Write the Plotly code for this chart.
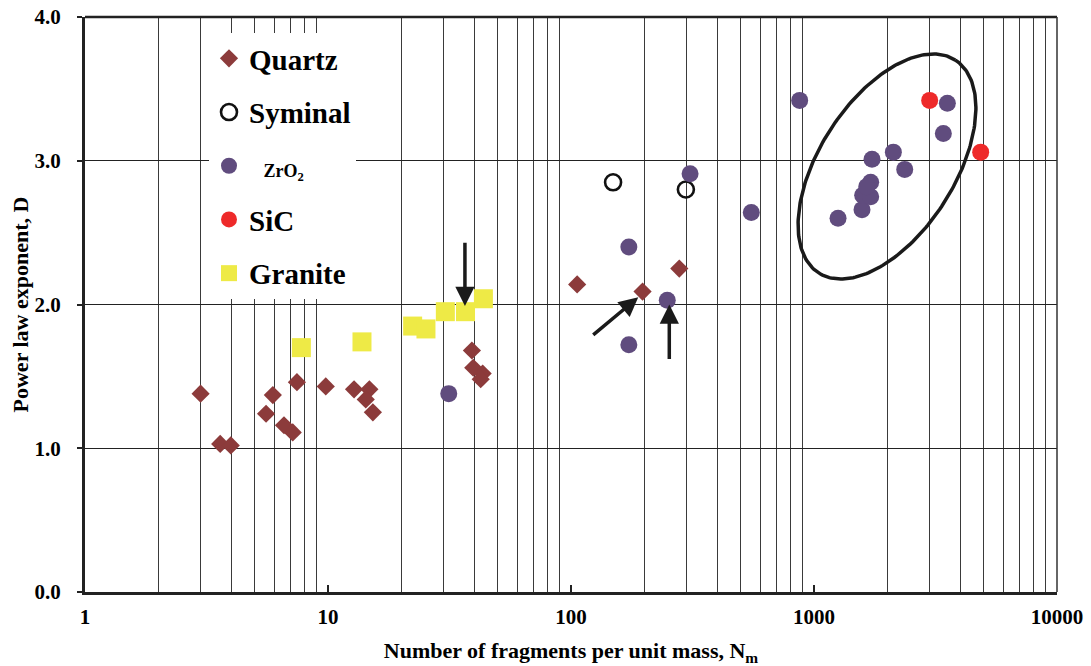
import numpy as np
import plotly.graph_objects as go

# ---- data: number of fragments per unit mass (N_m) vs power-law exponent D ----
quartz_x = [2.99, 3.60, 3.98, 5.56, 5.93, 6.59, 7.16, 7.45, 9.79, 12.8, 14.8, 14.3, 15.3,
            39.1, 39.6, 43.3, 42.5, 106, 197, 279]
quartz_y = [1.38, 1.03, 1.02, 1.24, 1.37, 1.16, 1.11, 1.46, 1.43, 1.41, 1.41, 1.34, 1.25,
            1.68, 1.56, 1.52, 1.48, 2.14, 2.09, 2.25]

syminal_x = [149, 297]
syminal_y = [2.85, 2.80]

zro2_x = [31.4, 173, 173, 249, 309, 552, 873, 1256, 1576, 1586, 1711, 1711, 1648, 1733,
          2121, 2362, 3406, 3538]
zro2_y = [1.38, 2.40, 1.72, 2.03, 2.91, 2.64, 3.42, 2.60, 2.66, 2.76, 2.75, 2.85, 2.82, 3.01,
          3.06, 2.94, 3.19, 3.40]

sic_x = [2992, 4852]
sic_y = [3.42, 3.06]

granite_x = [7.77, 13.8, 22.3, 25.3, 30.4, 36.8, 43.6]
granite_y = [1.70, 1.74, 1.85, 1.83, 1.95, 1.95, 2.04]

x_tick_vals = [1, 10, 100, 1000, 10000]
x_tick_text = ["1", "10", "100", "1000", "10000"]
y_tick_vals = [0, 1, 2, 3, 4]
y_tick_text = ["0.0", "1.0", "2.0", "3.0", "4.0"]

# arrows: (N_m, D) of tail and head
arrows = [
    ((36.6, 2.44), (36.6, 1.99)),
    ((121.7, 1.78), (189.2, 2.05)),
    ((253.8, 1.61), (253.8, 2.00)),
]

# ---- layout geometry ----
W, H = 1091, 666
MARGIN = dict(l=85, r=34, t=17, b=74)
plot_w = W - MARGIN["l"] - MARGIN["r"]
plot_h = H - MARGIN["t"] - MARGIN["b"]
px_per_decade = plot_w / 4.0
px_per_unit = plot_h / 4.0

FONT = "Liberation Serif"
TICK_SIZE = 21
TITLE_SIZE = 22

# ellipse around the high-N_m cluster (centre in data units, axes in screen px)
ell_cx, ell_cy = 1997, 2.96
ell_a, ell_b, ell_tilt = 126.5, 67.6, 57.3
t = np.linspace(0, 2 * np.pi, 240)
th = np.radians(ell_tilt)
u, v = ell_a * np.cos(t), ell_b * np.sin(t)
dx = u * np.cos(th) - v * np.sin(th)
dy = u * np.sin(th) + v * np.cos(th)
ell_x = 10 ** (np.log10(ell_cx) + dx / px_per_decade)
ell_y = ell_cy + dy / px_per_unit

fig = go.Figure()

fig.add_trace(go.Scatter(x=ell_x, y=ell_y, mode="lines",
                         line=dict(color="#1a1a1a", width=3.5),
                         showlegend=False, hoverinfo="skip"))

fig.add_trace(go.Scatter(x=quartz_x, y=quartz_y, mode="markers", name="Quartz",
                         legendgroup="q",
                         marker=dict(symbol="diamond", size=14, color="#8C3B3B")))
fig.add_trace(go.Scatter(x=syminal_x, y=syminal_y, mode="markers", name="Syminal",
                         legendgroup="s",
                         marker=dict(symbol="circle-open", size=16, color="#111111",
                                     line=dict(width=2.6, color="#111111"))))
fig.add_trace(go.Scatter(x=zro2_x, y=zro2_y, mode="markers",
                         name="&nbsp;&nbsp;<span style='font-size:18px'>ZrO<sub>2</sub></span>",
                         legendgroup="z",
                         marker=dict(symbol="circle", size=17, color="#604C7E")))
fig.add_trace(go.Scatter(x=sic_x, y=sic_y, mode="markers", name="SiC",
                         legendgroup="c",
                         marker=dict(symbol="circle", size=17, color="#EE2A2A")))
fig.add_trace(go.Scatter(x=granite_x, y=granite_y, mode="markers", name="Granite",
                         legendgroup="g",
                         marker=dict(symbol="square", size=19, color="#EEEA46")))

annotations = []
for (tx, ty), (hx, hy) in arrows:
    annotations.append(dict(
        x=np.log10(hx), y=hy, ax=np.log10(tx), ay=ty,
        xref="x", yref="y", axref="x", ayref="y",
        text="", showarrow=True, arrowhead=2, arrowsize=1.1,
        arrowwidth=3.5, arrowcolor="#1a1a1a", standoff=0,
    ))

minor_vals = [d * 10 ** k for k in range(4) for d in range(2, 10)]

fig.update_layout(
    width=W, height=H,
    margin=MARGIN,
    paper_bgcolor="white", plot_bgcolor="white",
    font=dict(family=FONT, color="black", weight="bold"),
    showlegend=True,
    legend=dict(
        x=(209 - MARGIN["l"]) / plot_w,
        y=1 - (33 - MARGIN["t"]) / plot_h,
        xanchor="left", yanchor="top",
        bgcolor="white", borderwidth=0,
        font=dict(family=FONT, size=29, color="black", weight="bold"),
        traceorder="grouped", tracegroupgap=13,
        itemsizing="trace",
    ),
    annotations=annotations,
    shapes=[
        dict(type="line", xref="paper", yref="paper", x0=0, x1=1, y0=1, y1=1,
             line=dict(color="#222222", width=2.5)),
        dict(type="line", xref="paper", yref="paper", x0=1, x1=1, y0=0, y1=1,
             line=dict(color="#333333", width=1.5)),
    ],
    xaxis=dict(
        type="log", range=[0, 4], automargin=False,
        tickmode="array", tickvals=x_tick_vals, ticktext=x_tick_text,
        ticks="inside", ticklen=7, tickwidth=2, tickcolor="#222222",
        showgrid=False, zeroline=False,
        showline=True, linewidth=3, linecolor="#222222",
        tickfont=dict(family=FONT, size=TICK_SIZE, color="black", weight="bold"),
        ticklabelstandoff=4,
        minor=dict(tickmode="array", tickvals=minor_vals, showgrid=True,
                   gridcolor="#3a3a3a", gridwidth=1, ticks=""),
        title=dict(text="Number of fragments per unit mass, N<sub>m</sub>",
                   font=dict(family=FONT, size=TITLE_SIZE, color="black", weight="bold"),
                   standoff=16),
    ),
    yaxis=dict(
        range=[0, 4], automargin=False,
        tickmode="array", tickvals=y_tick_vals, ticktext=y_tick_text,
        ticks="outside", ticklen=5, tickwidth=2, tickcolor="#222222",
        showgrid=True, gridcolor="#222222", gridwidth=1, zeroline=False,
        showline=True, linewidth=3, linecolor="#222222",
        tickfont=dict(family=FONT, size=TICK_SIZE, color="black", weight="bold"),
        ticklabelstandoff=12,
        title=dict(text="Power law exponent, D",
                   font=dict(family=FONT, size=TITLE_SIZE, color="black", weight="bold"),
                   standoff=0),
    ),
)

fig.write_html("out.html")
